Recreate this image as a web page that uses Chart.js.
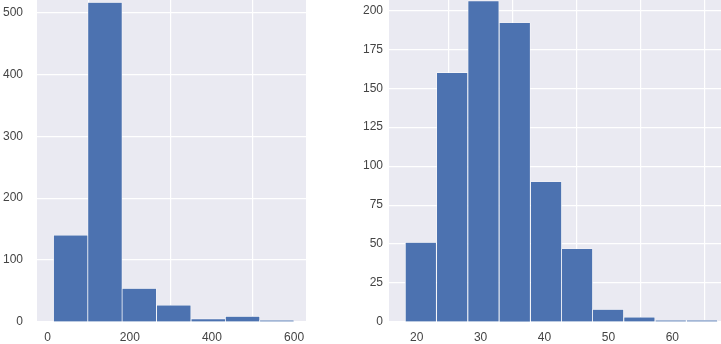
<!DOCTYPE html>
<html>
<head>
<meta charset="utf-8">
<script src="https://cdn.jsdelivr.net/npm/chart.js@4/dist/chart.umd.min.js"></script>
<style>
  html, body { margin: 0; padding: 0; background: #fff; }
  #wrap { position: relative; width: 721px; height: 344px; overflow: hidden; }
  canvas { position: absolute; top: 0; }
  #left { left: 0; }
  #right { left: 340px; }
</style>
</head>
<body>
<div id="wrap">
  <canvas id="left" width="306" height="344"></canvas>
  <canvas id="right" width="381" height="344"></canvas>
</div>
<script>
// left histogram
const leftEdges = [14, 98, 181, 265, 349, 433, 516, 600];
const leftCounts = [140, 516, 54, 27, 5, 9, 3];
const leftXTicks = [0, 200, 400, 600];
const leftYTicks = [0, 100, 200, 300, 400, 500];

// right histogram
const rightEdges = [18.2, 23.1, 28.0, 32.9, 37.8, 42.7, 47.5, 52.4, 57.3, 62.2, 67.1];
const rightCounts = [51, 160, 206, 192, 90, 47, 8, 3, 1, 1];
const rightXTicks = [20, 30, 40, 50, 60];
const rightYTicks = [0, 25, 50, 75, 100, 125, 150, 175, 200];

const BAR = '#4c72b0';
const BG = '#eaeaf2';
const TEXT = '#444';

const bgPlugin = {
  id: 'bg',
  beforeDraw(chart) {
    const a = chart.chartArea;
    const ctx = chart.ctx;
    ctx.save();
    ctx.fillStyle = BG;
    ctx.fillRect(a.left, a.top, a.right - a.left, a.bottom - a.top);
    ctx.restore();
  }
};

function histPoints(edges, counts) {
  return counts.map((c, i) => ({ x: (edges[i] + edges[i + 1]) / 2, y: c }));
}

function makeHist(id, edges, counts, xTicks, yTicks, xRange, yMax, yWidth, yPad) {
  new Chart(document.getElementById(id), {
    type: 'bar',
    data: {
      datasets: [{
        data: histPoints(edges, counts),
        backgroundColor: BAR,
        borderColor: 'rgba(255,255,255,0.85)',
        borderWidth: { left: 0.7, right: 0.7, top: 0.6, bottom: 0 },
        borderSkipped: false,
        barPercentage: 1,
        categoryPercentage: 1
      }]
    },
    options: {
      responsive: false,
      animation: false,
      devicePixelRatio: 1,
      layout: { padding: 0 },
      plugins: { legend: { display: false }, tooltip: { enabled: false } },
      scales: {
        x: {
          type: 'linear',
          offset: false,
          min: xRange[0],
          max: xRange[1],
          afterBuildTicks: axis => { axis.ticks = xTicks.map(v => ({ value: v })); },
          afterFit: axis => {
            axis.height = 22;
            axis.paddingLeft = 0;
            axis.paddingRight = 0;
          },
          grid: { color: '#fff', lineWidth: 1.2, drawTicks: false },
          border: { display: false },
          ticks: {
            color: TEXT, padding: 8, maxRotation: 0, autoSkip: false,
            font: { family: 'Liberation Sans', size: 12 }
          }
        },
        y: {
          min: 0,
          max: yMax,
          afterBuildTicks: axis => { axis.ticks = yTicks.map(v => ({ value: v })); },
          afterFit: axis => {
            axis.width = yWidth;
            axis.paddingTop = 0;
            axis.paddingBottom = 0;
          },
          grid: { color: '#fff', lineWidth: 1.2, drawTicks: false },
          border: { display: false },
          ticks: {
            color: TEXT, padding: yPad, autoSkip: false,
            font: { family: 'Liberation Sans', size: 12 }
          }
        }
      }
    },
    plugins: [bgPlugin]
  });
}

makeHist('left', leftEdges, leftCounts, leftXTicks, leftYTicks, [-26, 629], 520, 37, 14);
makeHist('right', rightEdges, rightCounts, rightXTicks, rightYTicks, [15.67, 67.62], 206.6, 49, 6);
</script>
</body>
</html>
